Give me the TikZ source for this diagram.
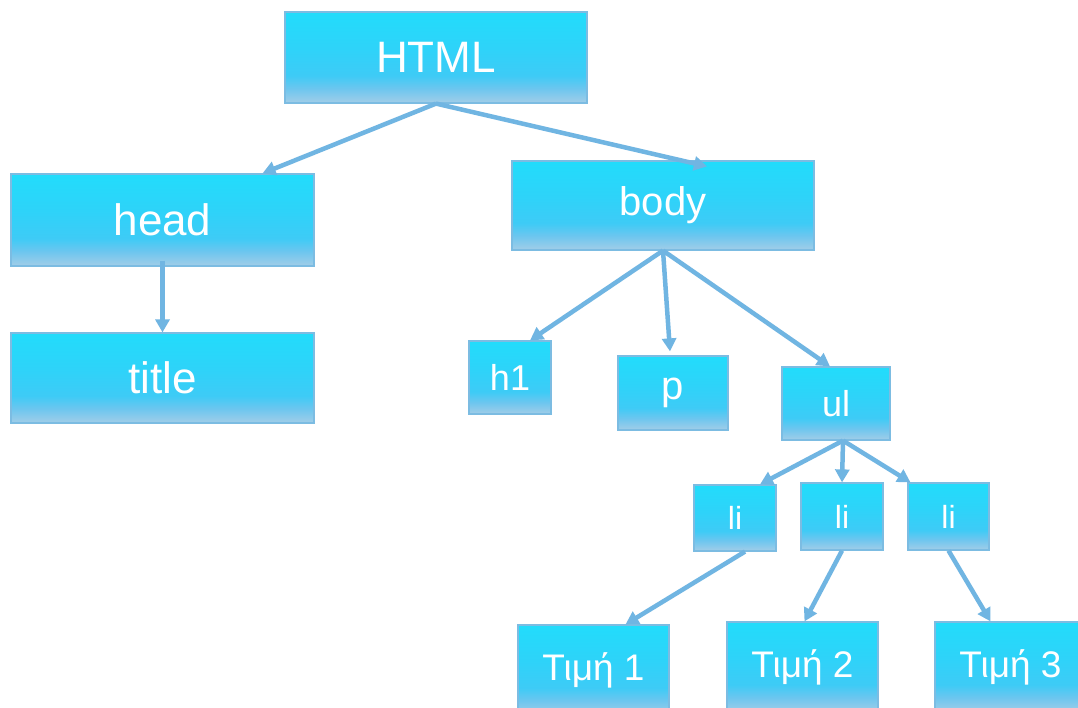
\documentclass[tikz,border=0pt]{standalone}
\usepackage{fontspec}
\setmainfont{Liberation Sans}
\usetikzlibrary{arrows.meta}
\definecolor{boxline}{HTML}{7CBCE2}
\definecolor{arrowblue}{HTML}{70B5E2}
\definecolor{fillA}{HTML}{A2CDE8}
\definecolor{fillB}{HTML}{6CC6EF}
\definecolor{fillC}{HTML}{3ECBF6}
\definecolor{fillD}{HTML}{2ED3F9}
\definecolor{fillE}{HTML}{22DCFB}
% cyan fill that fades to a pale blue band along the bottom edge
% (the box spans 25bp to 75bp of the shading)
\pgfdeclareverticalshading{tagfill}{100bp}{%
  color(0bp)=(fillA);
  color(25bp)=(fillA);
  color(33bp)=(fillB);
  color(40bp)=(fillC);
  color(55bp)=(fillD);
  color(75bp)=(fillE);
  color(100bp)=(fillE)}
\tikzset{
  tagbox/.style={draw=boxline, line width=1.2pt, shading=tagfill, text=white,
    inner sep=0pt, align=center},
  arr/.style={draw=arrowblue, line width=4.5pt, -{Triangle[length=13pt,width=14pt]}}
}
\begin{document}
\begin{tikzpicture}[x=1pt,y=1pt]
\useasboundingbox (0,0) rectangle (1078,707);
\clip (0,0) rectangle (1078,707);
\fill[white] (0,0) rectangle (1078,707);

% tree nodes
\node[tagbox, minimum width=302pt, minimum height=91pt, font=\fontsize{44}{48}\selectfont] (html) at (436,649.5) {HTML};
\node[tagbox, minimum width=303pt, minimum height=92pt, font=\fontsize{44}{48}\selectfont] (head) at (162.5,487) {head};
\node[tagbox, minimum width=303pt, minimum height=90pt, font=\fontsize{44}{48}\selectfont] (title) at (162.5,329) {title};
\node[tagbox, minimum width=302pt, minimum height=89pt, font=\fontsize{40}{44}\selectfont] (body) at (663,501.5) {body};
\node[tagbox, minimum width=82pt, minimum height=73pt, font=\fontsize{36}{40}\selectfont] (h1) at (510,329.5) {h1};
\node[tagbox, minimum width=110pt, minimum height=74pt, font=\fontsize{40}{44}\selectfont] (p) at (673,314) {p};
\node[tagbox, minimum width=108pt, minimum height=73pt, font=\fontsize{36}{40}\selectfont] (ul) at (836,303.5) {ul};
\node[tagbox, minimum width=82pt, minimum height=66pt, font=\fontsize{32}{36}\selectfont] (li1) at (735,189) {li};
\node[tagbox, minimum width=82pt, minimum height=67pt, font=\fontsize{32}{36}\selectfont] (li2) at (842,190.5) {li};
\node[tagbox, minimum width=81pt, minimum height=67pt, font=\fontsize{32}{36}\selectfont] (li3) at (948.5,190.5) {li};
\node[tagbox, minimum width=151pt, minimum height=90pt, font=\fontsize{37}{41}\selectfont] (t1) at (593.5,37) {Τιμή 1};
\node[tagbox, minimum width=151pt, minimum height=90pt, font=\fontsize{37}{41}\selectfont] (t2) at (802.5,40) {Τιμή 2};
\node[tagbox, minimum width=151pt, minimum height=90pt, font=\fontsize{37}{41}\selectfont] (t3) at (1010.5,40) {Τιμή 3};

% connectors
\draw[arr] (html.south) -- ([xshift=100pt]head.north);
\draw[arr] (html.south) -- ([xshift=44pt,yshift=-6pt]body.north);
\draw[arr] ([yshift=6pt]head.south) -- (title.north);
\draw[arr] (body.south) -- ([xshift=20pt]h1.north);
\draw[arr] (body.south) -- ([xshift=-3pt,yshift=4pt]p.north);
\draw[arr] (body.south) -- ([xshift=-6pt]ul.north);
\draw[arr] ([xshift=7pt]ul.south) -- ([xshift=25pt]li1.north);
\draw[arr] ([xshift=7pt]ul.south) -- (li2.north);
\draw[arr] ([xshift=7pt]ul.south) -- ([xshift=-38pt]li3.north);
\draw[arr] ([xshift=10pt]li1.south) -- ([xshift=32pt]t1.north);
\draw[arr] (li2.south) -- ([xshift=2pt]t2.north);
\draw[arr] (li3.south) -- ([xshift=-20pt]t3.north);
\end{tikzpicture}
\end{document}
